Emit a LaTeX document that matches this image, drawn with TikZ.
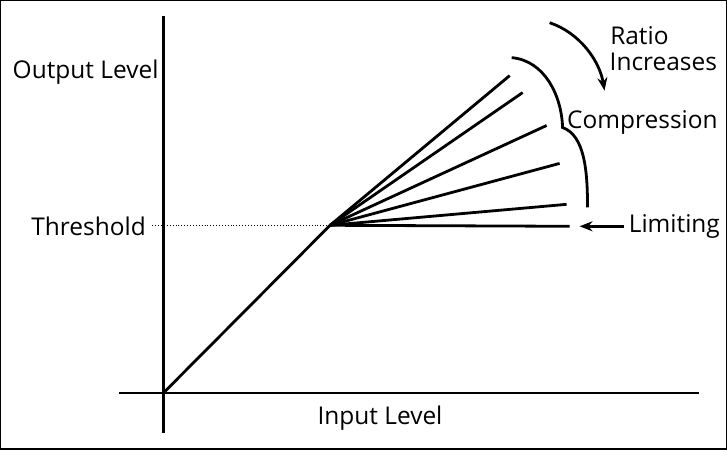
\documentclass[tikz,border=0pt]{standalone}
\usepackage{fontspec}
\setmainfont{Open Sans}
\usetikzlibrary{arrows.meta}
\tikzset{
  lbl/.style={font=\fontsize{24.5}{29}\selectfont},
  ln/.style={line width=2.8pt},
}
\begin{document}
\begin{tikzpicture}[x=1pt,y=-1pt]
\draw[line width=1.5pt] (0,0) rectangle (727,449);

% axes
\draw[line width=2.2pt] (163,15) -- (163,433);
\draw[line width=2.2pt] (118,393) -- (700,393);
\coordinate (o) at (163,393);
\coordinate (t) at (330,225);
\draw[ln] (o) -- (t);
\draw[dotted,line width=0.9pt] (152,225) -- (t);

% ratio lines
\foreach \ex/\ey in {510/75, 523/92, 547/125, 560/163, 567/204, 570/226}
  \draw[ln] (t) -- (\ex,\ey);

% brace
\draw[ln] (512,57) .. controls (545,60) and (562,95) .. (563,127)
  .. controls (585,135) and (588,170) .. (588,207);
% arrows
\draw[ln,-{Stealth[length=13pt,width=10pt]}] (550,22) .. controls (580,32) and (600,60) .. (605,90);
\draw[ln,-{Stealth[length=13pt,width=10pt]}] (625,226) -- (580,226);

% labels
\node[lbl] (out) at (85,72) {Output Level};
\node[lbl] (thr) at (88,226) {Threshold};
\node[lbl] (inp) at (380,418) {Input Level};
\node[lbl] (rat) at (640,35) {Ratio};
\node[lbl] (inc) at (664,61) {Increases};
\node[lbl] (cmp) at (643,122) {Compression};
\node[lbl] (lim) at (675,226) {Limiting};
\end{tikzpicture}
\end{document}
